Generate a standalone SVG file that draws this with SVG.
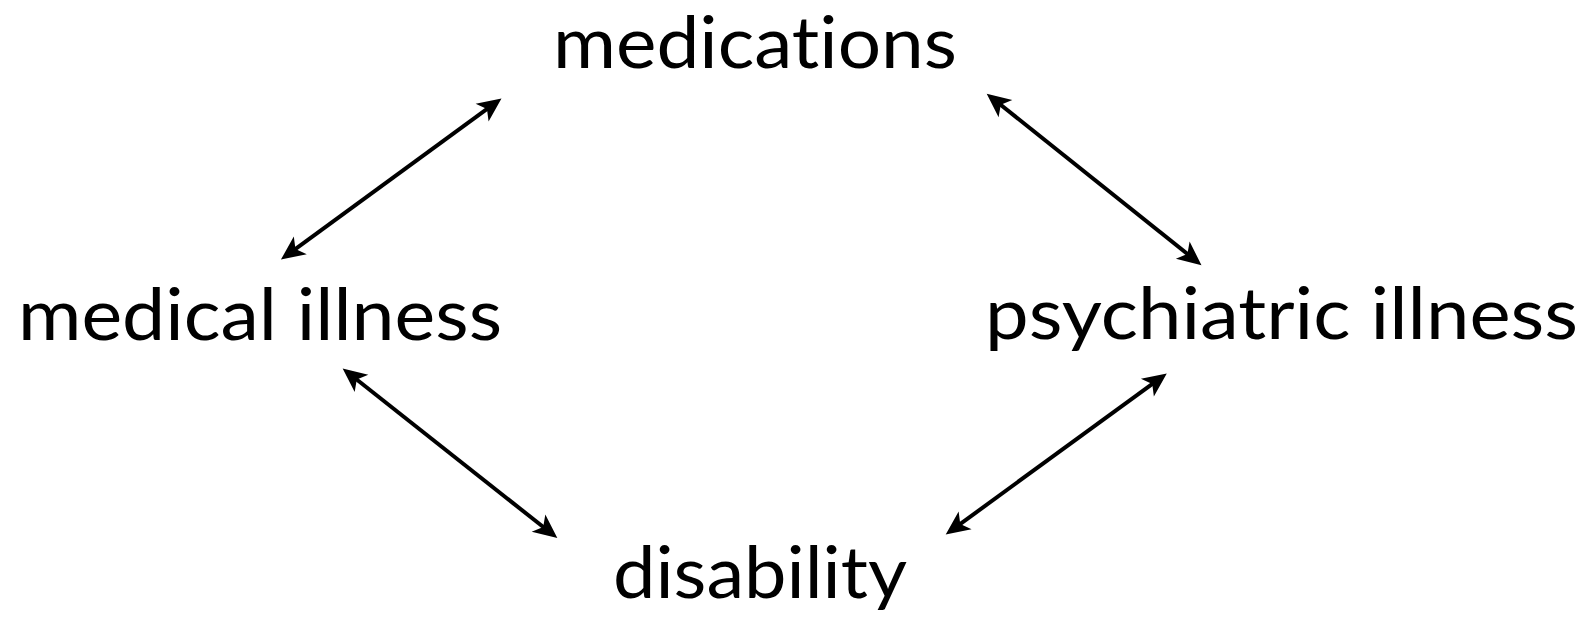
<svg xmlns="http://www.w3.org/2000/svg" width="1589" height="621" viewBox="0 0 1589 621">
<style>
.lbl{font-family:"Lato","Open Sans","Liberation Sans",sans-serif;font-size:72px;fill:#000;font-variant-ligatures:none;font-feature-settings:"liga" 0,"clig" 0}
.con{stroke:#000;stroke-width:4;fill:none}
</style>
<defs>
<marker id="ah" viewBox="-16 -13 30 26" refX="0" refY="0" markerWidth="30" markerHeight="26" markerUnits="userSpaceOnUse" orient="auto-start-reverse">
<path d="M11,0 L-13,-11 L-7,0 L-13,11 Z" fill="#000"/>
</marker>
</defs>
<rect width="1589" height="621" fill="#fff"/>
<g id="connectors">
<line class="con" x1="289.8" y1="253.1" x2="492.6" y2="104.9" marker-start="url(#ah)" marker-end="url(#ah)"/>
<line class="con" x1="995.3" y1="100.5" x2="1192.9" y2="258.3" marker-start="url(#ah)" marker-end="url(#ah)"/>
<line class="con" x1="351.3" y1="375.2" x2="548.7" y2="531.3" marker-start="url(#ah)" marker-end="url(#ah)"/>
<line class="con" x1="954.6" y1="528.1" x2="1157.9" y2="379.9" marker-start="url(#ah)" marker-end="url(#ah)"/>
</g>
<g id="medications"><text class="lbl" x="553" y="68" textLength="404" lengthAdjust="spacingAndGlyphs">medications</text></g>
<g id="medical-illness"><text class="lbl" x="18" y="340" textLength="484" lengthAdjust="spacingAndGlyphs">medical illness</text></g>
<g id="psychiatric-illness"><text class="lbl" x="985" y="339" textLength="593" lengthAdjust="spacingAndGlyphs">psychiatric illness</text></g>
<g id="disability"><text class="lbl" x="613" y="598" textLength="294" lengthAdjust="spacingAndGlyphs">disability</text></g>
</svg>
